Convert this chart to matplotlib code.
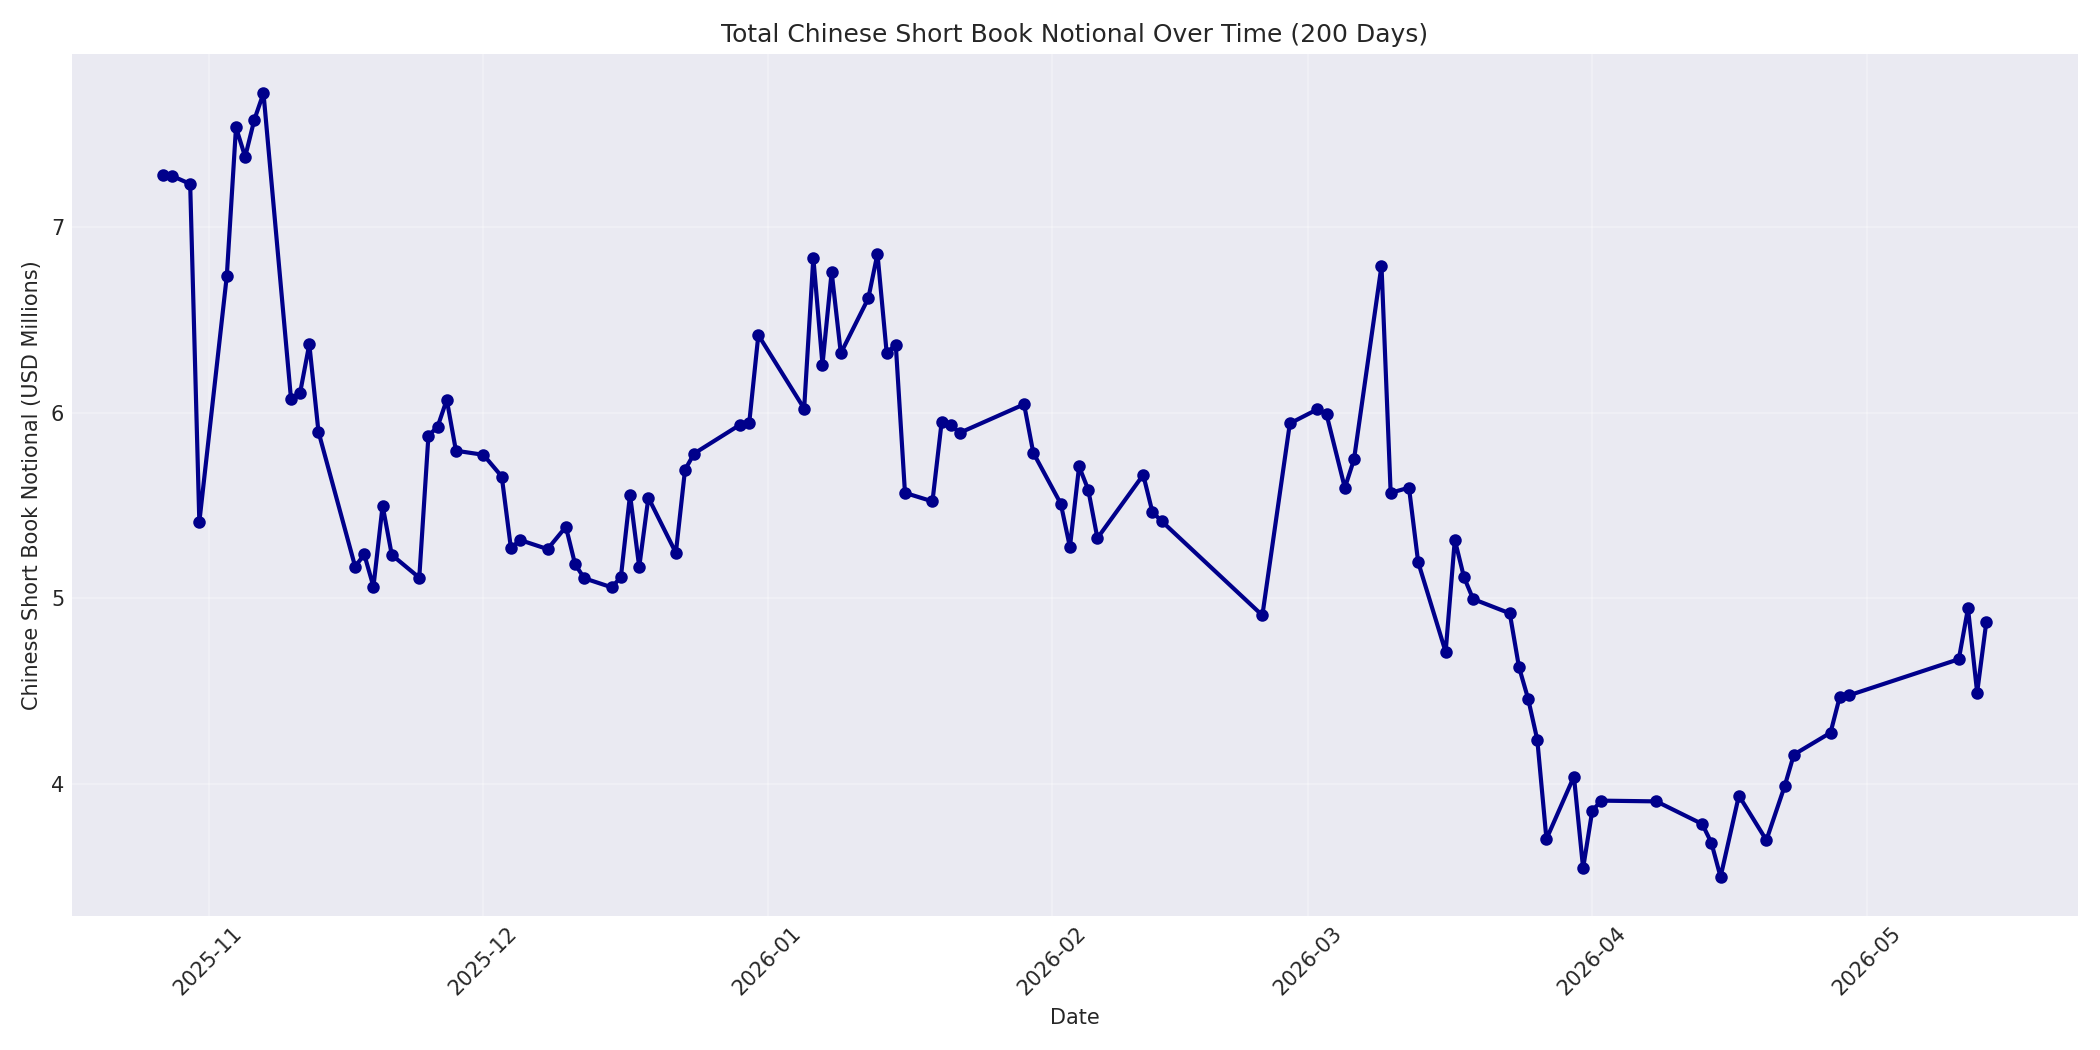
import matplotlib
matplotlib.use("Agg")
import matplotlib.pyplot as plt
import pandas as pd

# datas (dias úteis) e valores
datas = [
    "2025-10-27", "2025-10-28", "2025-10-30", "2025-10-31",
    "2025-11-03", "2025-11-04", "2025-11-05", "2025-11-06", "2025-11-07",
    "2025-11-10", "2025-11-11", "2025-11-12", "2025-11-13",
    "2025-11-17", "2025-11-18", "2025-11-19", "2025-11-20", "2025-11-21",
    "2025-11-24", "2025-11-25", "2025-11-26", "2025-11-27", "2025-11-28",
    "2025-12-01", "2025-12-03", "2025-12-04", "2025-12-05",
    "2025-12-08", "2025-12-10", "2025-12-11", "2025-12-12",
    "2025-12-15", "2025-12-16", "2025-12-17", "2025-12-18", "2025-12-19",
    "2025-12-22", "2025-12-23", "2025-12-24",
    "2025-12-29", "2025-12-30", "2025-12-31",
    "2026-01-05", "2026-01-06", "2026-01-07", "2026-01-08", "2026-01-09",
    "2026-01-12", "2026-01-13", "2026-01-14", "2026-01-15", "2026-01-16",
    "2026-01-19", "2026-01-20", "2026-01-21", "2026-01-22",
    "2026-01-29", "2026-01-30",
    "2026-02-02", "2026-02-03", "2026-02-04", "2026-02-05", "2026-02-06",
    "2026-02-11", "2026-02-12", "2026-02-13",
    "2026-02-24", "2026-02-27",
    "2026-03-02", "2026-03-03", "2026-03-05", "2026-03-06",
    "2026-03-09", "2026-03-10", "2026-03-12", "2026-03-13",
    "2026-03-16", "2026-03-17", "2026-03-18", "2026-03-19",
    "2026-03-23", "2026-03-24", "2026-03-25", "2026-03-26", "2026-03-27",
    "2026-03-30", "2026-03-31", "2026-04-01", "2026-04-02",
    "2026-04-08",
    "2026-04-13", "2026-04-14", "2026-04-15", "2026-04-17",
    "2026-04-20", "2026-04-22", "2026-04-23",
    "2026-04-27", "2026-04-28", "2026-04-29",
    "2026-05-11", "2026-05-12", "2026-05-13", "2026-05-14",
]

notional = [
    7.279, 7.276, 7.232, 5.411,
    6.738, 7.537, 7.378, 7.578, 7.721,
    6.076, 6.108, 6.369, 5.897,
    5.171, 5.236, 5.063, 5.499, 5.234,
    5.111, 5.876, 5.924, 6.070, 5.795,
    5.773, 5.656, 5.270, 5.314,
    5.265, 5.385, 5.184, 5.108,
    5.059, 5.114, 5.558, 5.168, 5.542,
    5.245, 5.693, 5.780,
    5.935, 5.942, 6.418,
    6.022, 6.834, 6.259, 6.758, 6.320,
    6.616, 6.856, 6.324, 6.364, 5.568,
    5.522, 5.948, 5.931, 5.892,
    6.045, 5.784,
    5.510, 5.276, 5.710, 5.585, 5.324,
    5.665, 5.465, 5.416,
    4.908, 5.942,
    6.018, 5.991, 5.595, 5.748,
    6.791, 5.568, 5.596, 5.195,
    4.711, 5.315, 5.114, 4.996,
    4.919, 4.630, 4.459, 4.238, 3.703,
    4.040, 3.546, 3.856, 3.910,
    3.906,
    3.784, 3.683, 3.499, 3.937,
    3.697, 3.989, 4.158,
    4.276, 4.468, 4.477,
    4.672, 4.946, 4.492, 4.872,
]

df = pd.DataFrame({"data": pd.to_datetime(datas), "notional": notional})

plt.style.use("seaborn-v0_8-darkgrid")
plt.rcParams["font.family"] = ["DejaVu Sans"]

fig, ax = plt.subplots(figsize=(14, 7), dpi=150)

ax.plot(df["data"], df["notional"], marker="o", markersize=5,
        linewidth=2, color="darkblue")

ax.set_title("Total Chinese Short Book Notional Over Time (200 Days)", fontsize=12)
ax.set_xlabel("Date", fontsize=10)
ax.set_ylabel("Chinese Short Book Notional (USD Millions)", fontsize=10)
ax.grid(True, alpha=0.3)
plt.xticks(rotation=45)

plt.tight_layout()
plt.savefig("out.png", dpi=150)
